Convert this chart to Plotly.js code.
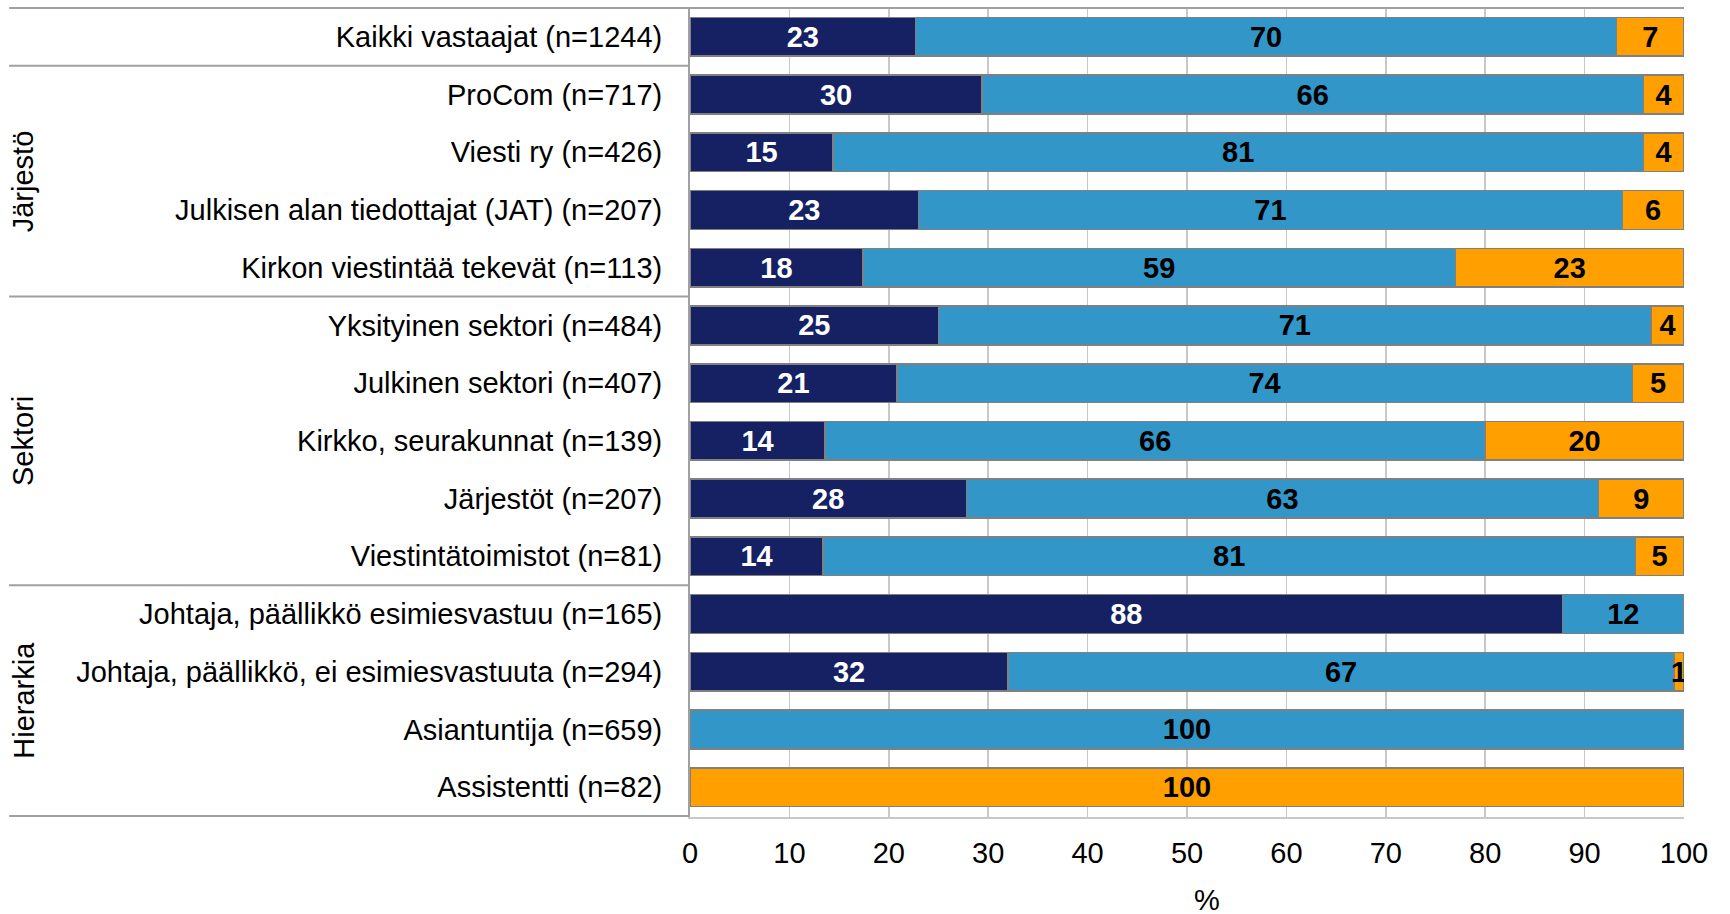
<!DOCTYPE html>
<html>
<head>
<meta charset="utf-8">
<script src="https://cdn.plot.ly/plotly-3.0.1.min.js"></script>
<style>
  html, body { margin: 0; padding: 0; background: white; }
  #chart { width: 1730px; height: 914px; }
</style>
</head>
<body>
<div id="chart"></div>
<script>
// categories, top to bottom
const categories = [
    'Kaikki vastaajat (n=1244)',
    'ProCom (n=717)',
    'Viesti ry (n=426)',
    'Julkisen alan tiedottajat (JAT) (n=207)',
    'Kirkon viestintää tekevät (n=113)',
    'Yksityinen sektori (n=484)',
    'Julkinen sektori (n=407)',
    'Kirkko, seurakunnat (n=139)',
    'Järjestöt (n=207)',
    'Viestintätoimistot (n=81)',
    'Johtaja, päällikkö esimiesvastuu (n=165)',
    'Johtaja, päällikkö, ei esimiesvastuuta (n=294)',
    'Asiantuntija (n=659)',
    'Assistentti (n=82)'
];

const groupNames = ['', 'Järjestö', 'Sektori', 'Hierarkia'];
const groupSizes = [1, 4, 5, 4];

// segment lengths (%)
const darkValues   = [22.7, 29.4, 14.4, 23.0, 17.4, 25.0, 20.8, 13.6, 27.8, 13.4, 87.8, 32.0, 0, 0];
const blueValues   = [70.5, 66.5, 81.5, 70.8, 59.6, 71.7, 74.0, 66.4, 63.6, 81.7, 12.2, 67.0, 100, 0];
const orangeValues = [6.8, 4.1, 4.1, 6.2, 23.0, 3.3, 5.2, 20.0, 8.6, 4.9, 0, 1.0, 0, 100];

// printed labels
const darkLabels   = ['23', '30', '15', '23', '18', '25', '21', '14', '28', '14', '88', '32', '', ''];
const blueLabels   = ['70', '66', '81', '71', '59', '71', '74', '66', '63', '81', '12', '67', '100', ''];
const orangeLabels = ['7', '4', '4', '6', '23', '4', '5', '20', '9', '5', '', '1', '', '100'];

const xTicks = [0, 10, 20, 30, 40, 50, 60, 70, 80, 90, 100];

const narrowFont = 'Liberation Sans Narrow, Arial Narrow, Liberation Sans, Arial, sans-serif';
const baseFont = 'Liberation Sans, Arial, sans-serif';

function segment(values, labels, color, textColor, name) {
    return {
        type: 'bar',
        orientation: 'h',
        name: name,
        y: categories,
        x: values,
        text: labels,
        texttemplate: '%{text}',
        textposition: 'inside',
        insidetextanchor: 'middle',
        textangle: 0,
        textfont: { family: baseFont, size: 29, color: textColor, weight: 'bold' },
        marker: { color: color, line: { color: '#808080', width: 1.5 } },
        hoverinfo: 'x+y'
    };
}

const traces = [
    segment(darkValues, darkLabels, '#152163', '#ffffff', 'Sarja 1'),
    segment(blueValues, blueLabels, '#3396c8', '#000000', 'Sarja 2'),
    segment(orangeValues, orangeLabels, '#ffa000', '#000000', 'Sarja 3')
];

// group separators and group titles
const shapes = [];
const annotations = [];
const leftEdge = -0.685;
shapes.push({
    type: 'line', xref: 'paper', yref: 'y',
    x0: leftEdge, x1: 1, y0: -0.5, y1: -0.5,
    line: { color: '#a0a0a0', width: 2 }
});
let start = 0;
groupSizes.forEach((size, i) => {
    const end = start + size;
    shapes.push({
        type: 'line', xref: 'paper', yref: 'y',
        x0: leftEdge, x1: 0, y0: end - 0.5, y1: end - 0.5,
        line: { color: '#a0a0a0', width: 2 }
    });
    if (groupNames[i]) {
        annotations.push({
            xref: 'paper', yref: 'y',
            x: -0.689, y: (start + end - 1) / 2,
            text: groupNames[i],
            textangle: -90,
            showarrow: false,
            font: { family: baseFont, size: 29, color: '#000000' }
        });
    }
    start = end;
});

annotations.push({
    xref: 'paper', yref: 'paper',
    x: 0.52, y: -0.103, yanchor: 'middle',
    text: '%', showarrow: false,
    font: { family: baseFont, size: 29, color: '#000000' }
});

const layout = {
    width: 1730,
    height: 914,
    margin: { l: 690, r: 46, t: 7, b: 97 },
    barmode: 'stack',
    bargap: 0.33,
    showlegend: false,
    paper_bgcolor: 'white',
    plot_bgcolor: 'white',
    uniformtext: { mode: 'show', minsize: 29 },
    xaxis: {
        range: [0, 100],
        tickvals: xTicks,
        ticktext: xTicks.map(String),
        showgrid: true,
        gridcolor: '#c8c8c8',
        gridwidth: 1.5,
        zeroline: false,
        showline: true,
        linecolor: '#c8c8c8',
        linewidth: 1.5,
        ticks: '',
        ticklabelstandoff: 10,
        tickfont: { family: baseFont, size: 29, color: '#000000' }
    },
    yaxis: {
        type: 'category',
        autorange: 'reversed',
        showgrid: false,
        zeroline: false,
        showline: true,
        linecolor: '#a0a0a0',
        linewidth: 2,
        ticks: '',
        ticklabelstandoff: 20,
        tickfont: { family: narrowFont, size: 29, color: '#000000' }
    },
    shapes: shapes,
    annotations: annotations
};

Plotly.newPlot('chart', traces, layout, { displayModeBar: false, staticPlot: true });
</script>
</body>
</html>
